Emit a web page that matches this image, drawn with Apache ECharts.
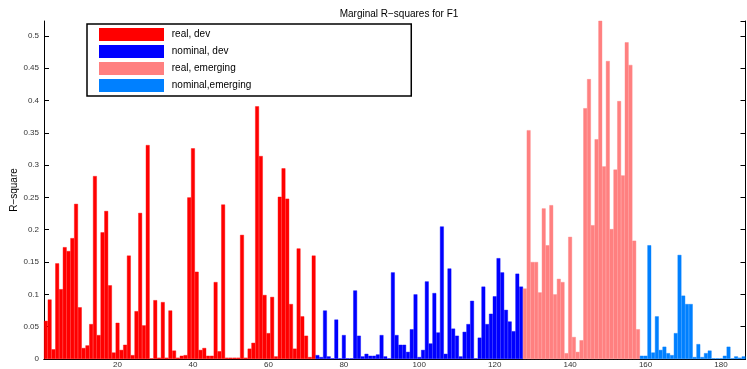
<!DOCTYPE html>
<html>
<head>
<meta charset="utf-8">
<script src="https://cdn.jsdelivr.net/npm/echarts@6/dist/echarts.min.js"></script>
<style>
  html, body {margin: 0; padding: 0; background: #fff;}
  #chart {width: 747px; height: 369px;}
</style>
</head>
<body>
<div id="chart"></div>
<script>
// bar values, indices 1..186 split by group
var realDev = [
    0.059, 0.092, 0.015, 0.148, 0.108, 0.173, 0.167, 0.187, 0.240, 0.080,
    0.017, 0.021, 0.054, 0.283, 0.037, 0.196, 0.229, 0.114, 0.010, 0.056,
    0.014, 0.022, 0.160, 0.006, 0.074, 0.226, 0.052, 0.331, 0.001, 0.091,
    0.002, 0.088, 0.002, 0.075, 0.013, 0.002, 0.005, 0.006, 0.250, 0.326,
    0.135, 0.014, 0.017, 0.005, 0.005, 0.119, 0.012, 0.239, 0.002, 0.002,
    0.002, 0.002, 0.192, 0.002, 0.016, 0.025, 0.391, 0.314, 0.099, 0.040,
    0.096, 0.004, 0.251, 0.295, 0.248, 0.085, 0.016, 0.171, 0.066, 0.036,
    0.003, 0.160
];
var nominalDev = [
    0.006, 0.003, 0.075, 0.004, 0.001, 0.061, 0.001, 0.037, 0.001, 0.001,
    0.106, 0.036, 0.004, 0.008, 0.005, 0.005, 0.007, 0.037, 0.004, 0.001,
    0.134, 0.037, 0.022, 0.022, 0.011, 0.046, 0.100, 0.003, 0.014, 0.120,
    0.024, 0.102, 0.041, 0.205, 0.008, 0.140, 0.047, 0.036, 0.004, 0.042,
    0.054, 0.090, 0.001, 0.033, 0.112, 0.054, 0.070, 0.097, 0.156, 0.134,
    0.076, 0.058, 0.043, 0.132, 0.112
];
var realEmerging = [
    0.109, 0.354, 0.150, 0.150, 0.103, 0.233, 0.176, 0.238, 0.100, 0.124,
    0.119, 0.009, 0.189, 0.034, 0.011, 0.029, 0.388, 0.433, 0.207, 0.340,
    0.530, 0.298, 0.461, 0.201, 0.293, 0.399, 0.284, 0.490, 0.455, 0.183,
    0.046
];
var nominalEmerging = [
    0.005, 0.005, 0.176, 0.010, 0.066, 0.014, 0.019, 0.009, 0.006, 0.040,
    0.161, 0.098, 0.085, 0.085, 0.003, 0.023, 0.003, 0.009, 0.013, 0.001,
    0.001, 0.001, 0.005, 0.019, 0.001, 0.004, 0.002, 0.004
];
var groupNames = ['real, dev', 'nominal, dev', 'real, emerging', 'nominal,emerging'];
var groupColors = ['#ff0000', '#0000ff', '#ff8080', '#0080ff'];

var groups = [realDev, nominalDev, realEmerging, nominalEmerging];
var total = 0;
groups.forEach(function (g) { total += g.length; });
var categories = [];
for (var i = 1; i <= total; i++) categories.push(i);

var offset = 0;
var series = groups.map(function (g, k) {
    var data = [];
    for (var j = 0; j < total; j++) {
        var idx = j - offset;
        data.push(idx >= 0 && idx < g.length ? g[idx] : '-');
    }
    offset += g.length;
    return {
        name: groupNames[k],
        type: 'bar',
        data: data,
        barGap: '-100%',
        barCategoryGap: 0,
        itemStyle: {color: groupColors[k], borderColor: groupColors[k], borderWidth: 0.4},
        xAxisIndex: 0,
        yAxisIndex: 0
    };
});

var everyTwenty = function (index) { return (index + 1) % 20 === 0; };
var fontFam = '"Liberation Sans", Arial, sans-serif';

var myChart = echarts.init(document.getElementById('chart'));
myChart.setOption({
    animation: false,
    title: {
        text: 'Marginal R\u2212squares for F1',
        left: 394,
        textAlign: 'center',
        top: 4,
        textStyle: {fontSize: 10, fontWeight: 'normal', color: '#000', fontFamily: fontFam}
    },
    legend: {
        orient: 'vertical',
        left: 87,
        top: 24,
        icon: 'rect',
        itemWidth: 65,
        itemHeight: 13,
        itemGap: 4,
        padding: [4, 160, 4, 12],
        borderColor: '#000',
        borderWidth: 1.5,
        backgroundColor: '#fff',
        itemStyle: {borderWidth: 0},
        formatter: function (name) { return ' ' + name; },
        textStyle: {fontSize: 10, color: '#000', fontFamily: fontFam},
        data: groupNames
    },
    grid: {left: 44, right: 1.5, top: 21, bottom: 10, containLabel: false, outerBoundsMode: 'none'},
    xAxis: [{
        type: 'category',
        data: categories,
        boundaryGap: true,
        axisLine: {lineStyle: {color: '#000'}},
        axisTick: {inside: true, length: 4, alignWithLabel: true, interval: everyTwenty, lineStyle: {color: '#000'}},
        axisLabel: {interval: everyTwenty, fontSize: 8, color: '#333', margin: 2, fontFamily: fontFam},
        splitLine: {show: false}
    }, {
        type: 'category',
        data: categories,
        position: 'top',
        boundaryGap: true,
        axisLine: {lineStyle: {color: '#000'}},
        axisTick: {inside: true, length: 4, alignWithLabel: true, interval: everyTwenty, lineStyle: {color: '#000'}},
        axisLabel: {show: false},
        splitLine: {show: false}
    }],
    yAxis: [{
        type: 'value',
        min: 0,
        max: 0.523,
        interval: 0.05,
        name: 'R\u2212square',
        nameLocation: 'middle',
        nameGap: 25,
        nameMoveOverlap: false,
        nameRotate: 90,
        nameTextStyle: {fontSize: 10, color: '#000', fontFamily: fontFam},
        axisLine: {show: true, lineStyle: {color: '#000'}},
        axisTick: {show: true, inside: true, length: 5, lineStyle: {color: '#000'}},
        axisLabel: {fontSize: 8, color: '#333', margin: 5, showMaxLabel: false, fontFamily: fontFam},
        splitLine: {show: false}
    }, {
        type: 'value',
        min: 0,
        max: 0.523,
        interval: 0.05,
        position: 'right',
        axisLine: {show: true, lineStyle: {color: '#000'}},
        axisTick: {show: true, inside: true, length: 5, lineStyle: {color: '#000'}},
        axisLabel: {show: false},
        splitLine: {show: false}
    }],
    series: series
});
</script>
</body>
</html>
